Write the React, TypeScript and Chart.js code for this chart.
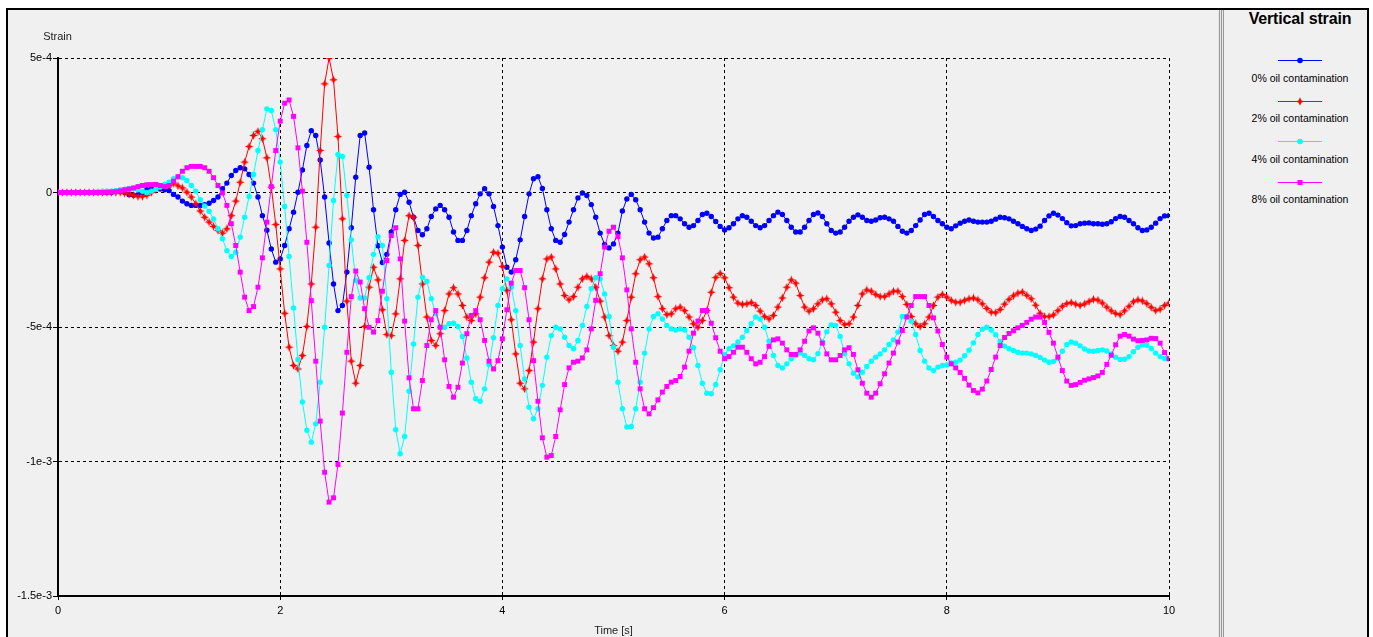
import React, { useEffect, useRef } from "react";
import { Chart, registerables } from "chart.js";

Chart.register(...registerables);

// ---------- data (strain values in units of 1e-4) ----------
const SERIES_LABELS = [
  "0% oil contamination",
  "2% oil contamination",
  "4% oil contamination",
  "8% oil contamination",
];
const SERIES_COLORS = ["#0000ff", "#ff0000", "#00ffff", "#ff00ff"];
const X_MIN = 0;
const X_MAX = 10;
const X_TICK_STEP = 2;
const Y_TICK_VALUES = [5, 0, -5, -10, -15];
const Y_TICK_LABELS = ["5e-4", "0", "-5e-4", "-1e-3", "-1.5e-3"];
const SAMPLE_STEP = 0.04; // seconds between samples

const strain0 = [
  0, 0, 0, 0, 0, 0, 0, 0, 0, 0,
  0, 0, 0, 0.05, 0.05, 0, -0.08, -0.1, -0.08, 0,
  0.1, 0.14, 0.15, 0.13, 0.1, 0.07, -0.07, -0.17, -0.32, -0.42,
  -0.48, -0.48, -0.48, -0.45, -0.4, -0.3, -0.17, 0.14, 0.35, 0.63,
  0.82, 0.92, 0.88, 0.67, 0.35, -0.17, -0.86, -1.4, -2.1, -2.59,
  -2.47, -1.97, -1.35, -0.73, 0.01, 0.84, 1.75, 2.3, 2.12, 1.21,
  -0.17, -1.88, -3.4, -4.39, -4.2, -2.96, -1.31, 0.57, 2.12, 2.21,
  0.94, -0.64, -1.98, -2.6, -2.3, -1.47, -0.64, -0.07, 0.01, -0.36,
  -0.92, -1.41, -1.57, -1.35, -0.89, -0.61, -0.48, -0.64, -0.92, -1.47,
  -1.78, -1.78, -1.41, -0.86, -0.42, -0.05, 0.14, -0.05, -0.52, -1.23,
  -2.03, -2.78, -2.96, -2.5, -1.76, -0.89, -0.05, 0.51, 0.59, 0.15,
  -0.64, -1.35, -1.78, -1.85, -1.56, -1.1, -0.64, -0.2, -0.02, -0.11,
  -0.45, -0.92, -1.51, -1.93, -2.06, -1.91, -1.51, -0.69, -0.24, -0.07,
  -0.27, -0.64, -1.1, -1.51, -1.69, -1.66, -1.35, -1.04, -0.86, -0.86,
  -0.98, -1.16, -1.29, -1.23, -1.04, -0.82, -0.77, -0.89, -1.08, -1.26,
  -1.39, -1.31, -1.16, -0.98, -0.86, -0.92, -1.07, -1.23, -1.31, -1.23,
  -1.04, -0.86, -0.73, -0.82, -1.04, -1.29, -1.47, -1.47, -1.29, -1.04,
  -0.82, -0.76, -0.89, -1.16, -1.41, -1.51, -1.47, -1.29, -1.07, -0.92,
  -0.83, -0.92, -1.04, -1.07, -1.02, -0.94, -0.92, -0.98, -1.07, -1.26,
  -1.44, -1.51, -1.41, -1.23, -1.02, -0.82, -0.77, -0.89, -1.04, -1.16,
  -1.29, -1.35, -1.24, -1.14, -1.07, -1.02, -1.07, -1.1, -1.1, -1.1,
  -1.07, -0.99, -0.92, -0.94, -0.98, -1.07, -1.16, -1.26, -1.35, -1.41,
  -1.36, -1.25, -1.04, -0.87, -0.77, -0.84, -0.97, -1.12, -1.24, -1.23,
  -1.16, -1.14, -1.13, -1.16, -1.16, -1.18, -1.16, -1.09, -0.97, -0.89,
  -0.92, -1.04, -1.16, -1.31, -1.41, -1.39, -1.29, -1.14, -0.97, -0.87,
  -0.86,
];

const strain2 = [
  0, 0, 0, 0, 0, 0, 0, 0, 0, 0,
  0, 0, 0, 0, 0, -0.03, -0.06, -0.1, -0.15, -0.15,
  -0.1, 0, 0.1, 0.2, 0.26, 0.26, 0.35, 0.25, 0.17, 0.01,
  -0.17, -0.42, -0.69, -0.92, -1.1, -1.26, -1.41, -1.51, -1.35, -0.86,
  -0.32, 0.38, 1.13, 1.71, 2.12, 2.27, 2.0, 1.29, 0.2, -1.19,
  -2.84, -4.49, -5.75, -6.43, -6.56, -6.06, -4.98, -3.4, -1.29, 1.56,
  4.04, 5.0, 4.19, 2.08, -0.98, -4.04, -6.27, -7.09, -6.43, -4.98,
  -3.52, -2.78, -3.25, -4.36, -5.28, -5.32, -4.51, -3.21, -1.78, -0.86,
  -0.92, -1.97, -3.4, -4.63, -5.5, -5.69, -5.25, -4.39, -3.77, -3.54,
  -3.77, -4.2, -4.63, -4.76, -4.51, -3.89, -3.17, -2.59, -2.22, -2.26,
  -2.75, -3.64, -4.73, -6.0, -7.09, -7.3, -6.62, -5.56, -4.32, -3.21,
  -2.47, -2.4, -2.84, -3.4, -3.83, -3.99, -3.87, -3.52, -3.21, -3.12,
  -3.21, -3.52, -4.04, -4.63, -5.32, -5.69, -5.9, -5.56, -4.76, -3.89,
  -3.02, -2.5, -2.4, -2.65, -3.17, -3.87, -4.32, -4.54, -4.51, -4.32,
  -4.26, -4.39, -4.63, -4.88, -5.01, -4.76, -4.39, -3.71, -3.16, -3.01,
  -3.17, -3.54, -3.89, -4.11, -4.16, -4.14, -4.09, -4.2, -4.41, -4.61,
  -4.7, -4.57, -4.26, -3.92, -3.52, -3.25, -3.37, -3.83, -4.26, -4.41,
  -4.32, -4.14, -3.99, -3.95, -4.14, -4.45, -4.76, -4.91, -4.88, -4.63,
  -4.2, -3.77, -3.62, -3.67, -3.79, -3.87, -3.87, -3.77, -3.67, -3.67,
  -3.87, -4.16, -4.61, -4.88, -4.98, -4.88, -4.63, -4.2, -3.89, -3.79,
  -3.89, -4.01, -4.08, -4.08, -4.01, -3.95, -3.92, -3.99, -4.14, -4.31,
  -4.45, -4.47, -4.35, -4.15, -3.97, -3.84, -3.74, -3.7, -3.82, -3.95,
  -4.19, -4.49, -4.61, -4.61, -4.55, -4.39, -4.23, -4.13, -4.09, -4.15,
  -4.2, -4.14, -4.05, -3.97, -4.0, -4.11, -4.26, -4.4, -4.5, -4.54,
  -4.4, -4.23, -4.06, -3.99, -4.03, -4.13, -4.27, -4.39, -4.34, -4.2,
  -4.11,
];

const strain4 = [
  0, 0, 0, 0, 0, 0, 0, 0, 0.02, 0.03,
  0.05, 0.05, 0.05, 0.07, 0.1, 0.12, 0.15, 0.15, 0.1, 0.05,
  0, 0.05, 0.12, 0.2, 0.3, 0.38, 0.51, 0.57, 0.55, 0.45,
  0.26, 0.05, -0.27, -0.5, -0.7, -0.98, -1.35, -1.72, -2.16, -2.38,
  -2.22, -1.66, -0.92, -0.15, 0.67, 1.56, 2.33, 3.11, 3.05, 2.33,
  1.13, -0.52, -2.38, -4.29, -6.21, -7.79, -8.84, -9.28, -8.6, -7.05,
  -5.01, -2.71, -0.3, 1.41, 1.34, -0.11, -1.76, -3.27, -3.92, -3.92,
  -3.17, -2.3, -1.64, -1.97, -3.95, -6.68, -8.82, -9.71, -9.07, -7.39,
  -5.63, -3.89, -3.15, -3.3, -3.95, -4.51, -5.01, -5.01, -4.88, -4.86,
  -4.98, -5.35, -6.15, -7.05, -7.67, -7.76, -7.3, -6.39, -5.4, -4.2,
  -3.58, -3.21, -3.52, -4.39, -5.69, -6.93, -7.98, -8.41, -8.04, -7.17,
  -6.12, -5.32, -5.01, -5.07, -5.38, -5.69, -5.81, -5.5, -4.94, -4.24,
  -3.58, -3.17, -3.21, -3.77, -4.61, -5.75, -7.05, -8.04, -8.72, -8.7,
  -8.04, -7.05, -5.97, -5.07, -4.61, -4.51, -4.7, -4.94, -5.07, -5.11,
  -5.07, -5.11, -5.38, -5.77, -6.43, -7.09, -7.46, -7.48, -7.14, -6.59,
  -6.02, -5.81, -5.7, -5.56, -5.38, -5.13, -4.88, -4.63, -4.7, -5.01,
  -5.53, -6.06, -6.43, -6.52, -6.37, -6.18, -6.06, -5.97, -6.06, -6.18,
  -6.22, -5.99, -5.56, -5.18, -4.92, -4.94, -5.35, -5.99, -6.37, -6.72,
  -6.86, -6.68, -6.47, -6.27, -6.12, -6.0, -5.85, -5.65, -5.48, -5.19,
  -4.61, -4.6, -4.78, -5.28, -5.87, -6.27, -6.52, -6.62, -6.49, -6.43,
  -6.41, -6.34, -6.31, -6.23, -6.07, -5.86, -5.59, -5.28, -5.08, -5.01,
  -5.11, -5.29, -5.54, -5.71, -5.81, -5.87, -5.94, -5.97, -5.97, -6.0,
  -6.06, -6.13, -6.23, -6.31, -6.28, -6.16, -5.9, -5.65, -5.56, -5.6,
  -5.7, -5.82, -5.89, -5.9, -5.87, -5.85, -5.89, -6.0, -6.12, -6.21,
  -6.2, -6.1, -5.92, -5.75, -5.66, -5.68, -5.8, -5.97, -6.1, -6.17,
  -6.18,
];

const strain8 = [
  0, 0, 0, 0, 0, 0, 0, 0, 0, 0,
  0, 0.01, 0.02, 0.03, 0.06, 0.1, 0.13, 0.17, 0.22, 0.26,
  0.29, 0.29, 0.3, 0.26, 0.22, 0.26, 0.42, 0.59, 0.79, 0.92,
  0.97, 0.97, 0.97, 0.92, 0.79, 0.55, 0.26, -0.02, -0.48, -1.16,
  -1.97, -2.96, -3.89, -4.39, -4.24, -3.52, -2.43, -1.1, 0.22, 1.56,
  2.65, 3.32, 3.44, 2.83, 1.66, 0.05, -1.85, -4.02, -6.27, -8.5,
  -10.4, -11.51, -11.35, -10.11, -8.2, -5.94, -3.87, -2.92, -3.33, -4.32,
  -5.01, -5.19, -4.76, -3.67, -2.53, -1.6, -1.31, -2.47, -4.78, -6.89,
  -8.04, -8.04, -6.99, -5.69, -4.73, -4.39, -5.01, -6.22, -7.21, -7.61,
  -7.24, -6.34, -5.25, -4.57, -4.39, -4.73, -5.5, -6.27, -6.56, -6.25,
  -5.44, -4.36, -3.37, -2.9, -2.9, -3.54, -4.73, -6.25, -7.76, -9.12,
  -9.84, -9.78, -9.07, -8.08, -7.14, -6.52, -6.31, -6.27, -6.15, -5.85,
  -5.07, -4.01, -3.02, -2.03, -1.44, -1.29, -1.64, -2.43, -3.62, -5.07,
  -6.31, -7.3, -8.04, -8.23, -8.0, -7.71, -7.42, -7.21, -7.05, -6.99,
  -6.84, -6.49, -5.9, -5.23, -4.78, -4.39, -4.39, -4.86, -5.4, -5.9,
  -6.18, -6.1, -5.94, -5.75, -5.75, -5.94, -6.18, -6.37, -6.31, -6.1,
  -5.72, -5.48, -5.44, -5.6, -5.85, -6.02, -6.02, -5.85, -5.53, -5.15,
  -5.03, -5.23, -5.6, -6.0, -6.22, -6.22, -6.06, -5.85, -5.77, -6.02,
  -6.59, -7.09, -7.46, -7.61, -7.46, -7.11, -6.74, -6.34, -5.97, -5.56,
  -5.13, -4.63, -4.2, -3.87, -3.87, -3.87, -4.2, -4.66, -5.15, -5.65,
  -6.12, -6.37, -6.52, -6.69, -6.91, -7.16, -7.36, -7.45, -7.31, -7.01,
  -6.58, -6.12, -5.69, -5.39, -5.24, -5.14, -5.03, -4.94, -4.83, -4.71,
  -4.63, -4.63, -4.83, -5.2, -5.6, -6.12, -6.62, -7.01, -7.17, -7.14,
  -7.06, -6.98, -6.93, -6.88, -6.82, -6.69, -6.39, -6.05, -5.66, -5.34,
  -5.28, -5.34, -5.45, -5.51, -5.5, -5.48, -5.42, -5.43, -5.6, -5.95,
  -6.18,
];

const SERIES = [strain0, strain2, strain4, strain8];
const TIME = strain0.map((_, i) => Math.round(i * SAMPLE_STEP * 100) / 100);

const FONT = '"Liberation Sans", Arial, Helvetica, sans-serif';

function makeStar(color: string): HTMLCanvasElement {
  const c = document.createElement("canvas");
  c.width = 9;
  c.height = 9;
  const g = c.getContext("2d") as CanvasRenderingContext2D;
  g.fillStyle = color;
  g.beginPath();
  const cx = 4.5, cy = 4.5, R = 4.2, r = 1.8;
  for (let k = 0; k < 8; k++) {
    const ang = -Math.PI / 2 + (k * Math.PI) / 4;
    const rad = k % 2 === 0 ? R : r;
    const px = cx + rad * Math.cos(ang);
    const py = cy + rad * Math.sin(ang);
    if (k === 0) g.moveTo(px, py);
    else g.lineTo(px, py);
  }
  g.closePath();
  g.fill();
  return c;
}

const axisTitles = {
  id: "axisTitles",
  afterDraw(chart: any) {
    const { ctx, chartArea } = chart;
    ctx.save();
    ctx.font = `11px ${FONT}`;
    ctx.fillStyle = "#222";
    ctx.textAlign = "center";
    ctx.textBaseline = "middle";
    ctx.fillText("Strain", chartArea.left - 0.5, chartArea.top - 21.5);
    ctx.fillText("Time [s]", (chartArea.left + chartArea.right) / 2, chartArea.bottom + 35);
    ctx.restore();
  },
};

function StrainChart() {
  const ref = useRef<HTMLCanvasElement | null>(null);
  useEffect(() => {
    if (!ref.current) return;
    const star = makeStar(SERIES_COLORS[1]);
    const styles: any[] = ["circle", star, "circle", "rect"];
    const radii = [2.7, 4, 2.7, 3.5];
    const orders = [4, 3, 2, 1];
    const datasets = SERIES.map((vals, s) => ({
      label: SERIES_LABELS[s],
      data: vals.map((v, i) => ({ x: TIME[i], y: v })),
      borderColor: SERIES_COLORS[s],
      backgroundColor: SERIES_COLORS[s],
      borderWidth: 1,
      pointStyle: styles[s],
      pointRadius: radii[s],
      pointBorderWidth: 0,
      pointBackgroundColor: SERIES_COLORS[s],
      tension: 0,
      order: orders[s],
    }));
    const gridCommon = {
      color: "#000",
      lineWidth: 1,
      tickColor: "#000",
      tickWidth: 1,
      tickBorderDash: [],
      drawOnChartArea: true,
      drawTicks: true,
    };
    const borderCommon = { display: true, color: "#000", width: 2, dash: [3, 3] };
    const tickFont = { size: 11, family: FONT };
    const chart = new Chart(ref.current, {
      type: "line",
      data: { datasets },
      plugins: [axisTitles],
      options: {
        animation: false,
        responsive: false,
        maintainAspectRatio: false,
        devicePixelRatio: 1,
        events: [],
        layout: { padding: { left: 0, top: 48, right: 49, bottom: 0 } },
        plugins: { legend: { display: false }, tooltip: { enabled: false } },
        scales: {
          x: {
            type: "linear",
            min: X_MIN,
            max: X_MAX,
            ticks: {
              stepSize: X_TICK_STEP,
              color: "#000",
              font: tickFont,
              padding: 4,
              maxRotation: 0,
              autoSkip: false,
              callback: (v: any) => String(v),
            },
            grid: { ...gridCommon, tickLength: 4 },
            border: borderCommon,
            afterFit: (s: any) => {
              s.height = 41;
            },
          },
          y: {
            type: "linear",
            min: Y_TICK_VALUES[Y_TICK_VALUES.length - 1],
            max: Y_TICK_VALUES[0],
            ticks: {
              stepSize: 5,
              color: "#000",
              font: tickFont,
              padding: 1,
              callback: (v: any) => {
                const k = Y_TICK_VALUES.indexOf(Number(v));
                return k >= 0 ? Y_TICK_LABELS[k] : "";
              },
            },
            grid: { ...gridCommon, tickLength: 5 },
            border: borderCommon,
            afterFit: (s: any) => {
              s.width = 50;
            },
          },
        },
      } as any,
    });
    return () => chart.destroy();
  }, []);
  return (
    <canvas
      ref={ref}
      width={1210}
      height={627}
      style={{ position: "absolute", left: 0, top: 0, display: "block" }}
    />
  );
}

function LegendMarker({ idx }: { idx: number }) {
  const c = SERIES_COLORS[idx];
  if (idx === 1)
    return (
      <polygon
        points="22,1.3 23.3,4.2 26.2,5.5 23.3,6.8 22,9.7 20.7,6.8 17.8,5.5 20.7,4.2"
        fill={c}
      />
    );
  if (idx === 3) return <rect x={19.5} y={3} width={5} height={5} fill={c} />;
  return <circle cx={22} cy={5.5} r={2.8} fill={c} />;
}

const LEGEND_SAMPLE_TOPS = [45, 85.7, 126.3, 167];
const LEGEND_LABEL_TOPS = [61.5, 102, 142.5, 183];

export default function App() {
  return (
    <div
      style={{
        position: "absolute",
        left: 6,
        top: 8,
        width: 1359,
        height: 627,
        borderTop: "2px solid #000",
        borderLeft: "2px solid #000",
        borderRight: "2px solid #000",
        background: "#f0f0f0",
        overflow: "hidden",
        fontFamily: FONT,
      }}
    >
      <StrainChart />
      <div
        style={{
          position: "absolute",
          left: 1210,
          top: 0,
          width: 6,
          height: 627,
          background:
            "linear-gradient(to right, #e6e6e6 0px, #e6e6e6 1px, #9a9a9a 1px, #9a9a9a 2px, #e6e6e6 2px, #e6e6e6 3px, #9a9a9a 3px, #9a9a9a 4px, #e6e6e6 4px, #e6e6e6 5px, #9a9a9a 5px, #9a9a9a 6px)",
        }}
      />
      <div
        style={{
          position: "absolute",
          left: 1222,
          width: 140,
          top: -1,
          textAlign: "center",
          fontWeight: "bold",
          fontSize: 16,
          lineHeight: "19px",
          letterSpacing: "-0.15px",
          color: "#000",
          whiteSpace: "nowrap",
        }}
      >
        Vertical strain
      </div>
      {SERIES_LABELS.map((lab, i) => (
        <React.Fragment key={lab}>
          <svg
            width={44}
            height={11}
            style={{ position: "absolute", left: 1270, top: LEGEND_SAMPLE_TOPS[i] }}
          >
            <rect x={0} y={5} width={44} height={1} fill={SERIES_COLORS[i]} />
            <LegendMarker idx={i} />
          </svg>
          <div
            style={{
              position: "absolute",
              left: 1222,
              width: 140,
              top: LEGEND_LABEL_TOPS[i],
              textAlign: "center",
              fontSize: 10.5,
              lineHeight: "12px",
              color: "#000",
              whiteSpace: "nowrap",
            }}
          >
            {lab}
          </div>
        </React.Fragment>
      ))}
    </div>
  );
}
